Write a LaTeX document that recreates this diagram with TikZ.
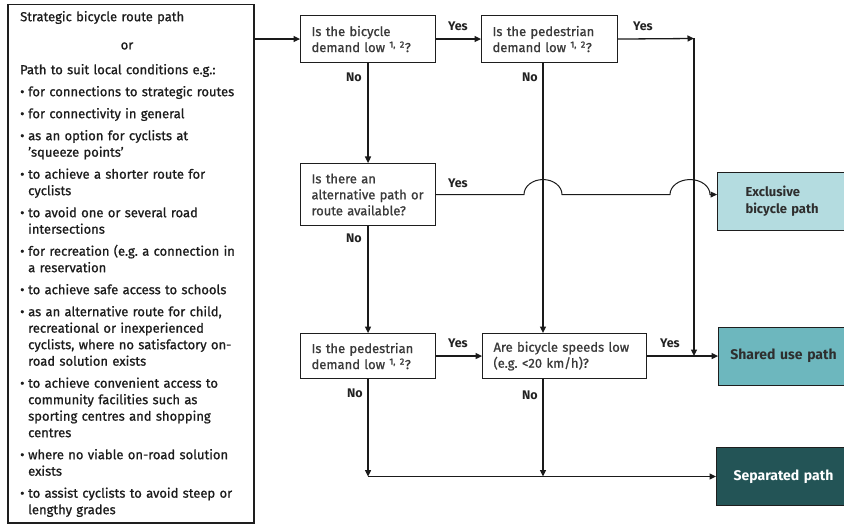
\documentclass[tikz,border=0pt]{standalone}
\usepackage{fontspec}
\setmainfont{Fira Sans}[FakeBold=0.9, BoldFeatures={FakeBold=0}]
\usetikzlibrary{arrows.meta,calc}
\definecolor{boxline}{HTML}{1E1E1E}
\definecolor{linecol}{HTML}{1A1A1A}
\definecolor{qtext}{HTML}{3A3A3A}
\definecolor{srctext}{HTML}{1C1C1C}
\definecolor{labtext}{HTML}{222222}
\definecolor{outtext}{HTML}{2E2E2E}
\definecolor{exfill}{HTML}{B4DCE0}
\definecolor{shfill}{HTML}{6DB7BE}
\definecolor{sepfill}{HTML}{235456}
\newcommand\bitem{\par\vspace{5.5pt}\hangindent=8pt\hangafter=1\noindent\makebox[8pt][l]{\textbullet}}
\begin{document}
\frenchspacing
\begin{tikzpicture}[x=1pt,y=-1pt,
  qbox/.style={draw=boxline, line width=1.1pt, fill=white, text=qtext, anchor=north west,
    inner xsep=11pt, inner ysep=0pt, align=left, font=\fontsize{13}{16}\selectfont},
  lab/.style={font=\bfseries\fontsize{12.5}{15}\selectfont, text=labtext, inner sep=0pt},
  conn/.style={draw=linecol, line width=1.3pt},
  thinconn/.style={draw=linecol, line width=1pt},
  arr/.style={-{Triangle[length=6.5pt,width=6pt]}},
  outbox/.style={draw=boxline, line width=1pt, anchor=north west, inner ysep=0pt,
    minimum height=58pt, font=\bfseries\fontsize{13}{17}\selectfont},
  bigout/.style={font=\bfseries\fontsize{14}{17}\selectfont}]
\useasboundingbox (0,0) rectangle (844,524);
\clip (0,0) rectangle (844,524);

% source box
\node[draw=boxline, line width=1.5pt, anchor=north west, minimum width=246pt,
  minimum height=518pt, inner sep=0pt] (src) at (7,4) {};
\node[anchor=north west, inner sep=0pt, text width=300pt, align=left, text=srctext,
  font=\fontsize{13}{16.5}\selectfont] (list) at (20,9.45) {%
\strut Strategic bicycle route path\par
\vspace{36.5pt}\noindent Path to suit local conditions e.g.:
\bitem for connections to strategic routes
\bitem for connectivity in general
\bitem as an option for cyclists at\newline 'squeeze points'
\bitem to achieve a shorter route for\newline cyclists
\bitem to avoid one or several road\newline intersections
\bitem for recreation (e.g. a connection in\newline a reservation
\bitem to achieve safe access to schools
\bitem as an alternative route for child,\newline recreational or inexperienced\newline cyclists, where no satisfactory on-\newline road solution exists
\bitem to achieve convenient access to\newline community facilities such as\newline sporting centres and shopping\newline centres
\bitem where no viable on-road solution\newline exists
\bitem to assist cyclists to avoid steep or\newline lengthy grades\par};
\node[inner sep=0pt, text=srctext, font=\fontsize{13}{16.5}\selectfont] (orr) at (127,46) {or};

% decision boxes
\node[qbox, text width=113pt, minimum height=47pt] (q1) at (300,15)
  {\mbox{Is the bicycle}\\\mbox{demand low \textsuperscript{1, 2}?}};
\node[qbox, text width=114pt, minimum height=47pt] (q2) at (481,15)
  {\mbox{Is the pedestrian}\\\mbox{demand low \textsuperscript{1, 2}?}};
\node[qbox, text width=113pt, minimum height=62pt] (q3) at (300,163)
  {\mbox{Is there an}\\\mbox{alternative path or}\\\mbox{route available?}};
\node[qbox, text width=113pt, minimum height=45pt] (q5) at (300,333)
  {\mbox{Is the pedestrian}\\\mbox{demand low \textsuperscript{1, 2}?}};
\node[qbox, text width=142pt, minimum height=45pt] (q6) at (482,333)
  {\mbox{Are bicycle speeds low}\\\mbox{(e.g. <20 km/h)?}};

% outcome boxes
\node[outbox, fill=exfill, text=outtext, inner xsep=28pt, text width=110pt, align=left] (ex) at (717,172)
  {Exclusive\\bicycle path};
\node[outbox, bigout, fill=shfill, text=outtext, inner xsep=0pt, text width=130pt, align=center] (sh) at (718,326.5)
  {Shared use path};
\node[outbox, bigout, fill=sepfill, text=white, inner xsep=0pt, text width=134pt, align=center] (sep) at (716,447)
  {Separated path};

% helper coordinates
\coordinate (c2) at (543,0);
\coordinate (tr) at (694,38.5);
\coordinate (j1) at (c2 |- q3.east);
\coordinate (j2) at (tr |- q3.east);
\coordinate (m1) at (q5.south |- sep.west);
\coordinate (m2) at (c2 |- sep.west);

% connectors
\draw[conn, arr] (src.east |- q1.west) -- (q1.west);
\draw[conn, arr] (q1.east) -- (q2.west);
\draw[conn, arr] (q2.east) -- (tr);
\draw[conn, arr] (tr) -- (tr |- q6.east);
\draw[conn, arr] (q1.south) -- (q3.north);
\draw[conn, arr] (c2 |- q2.south) -- (c2 |- q6.north);
\draw[conn, arr] (q3.south) -- (q5.north);
\draw[conn, arr] (q5.east) -- (q6.west);
\draw[conn, arr] (q6.east) -- (sh.west |- q6.east);
\draw[conn, arr] (q5.south) -- (m1);
\draw[conn, arr] (c2 |- q6.south) -- (m2);
\draw[conn, arr] (m1) -- (sep.west);
\draw[thinconn, arr] (q3.east) -- ([xshift=-19pt]j1)
  arc[start angle=180, end angle=0, x radius=19pt, y radius=15pt]
  -- ([xshift=-24pt]j2)
  arc[start angle=180, end angle=0, x radius=20pt, y radius=15pt]
  -- (ex.west |- q3.east);

% labels
\node[lab] (y1) at (458,26) {Yes};
\node[lab] (y2) at (643,26) {Yes};
\node[lab] (y3) at (458,183) {Yes};
\node[lab] (y4) at (458,343) {Yes};
\node[lab] (y5) at (670,343) {Yes};
\node[lab] (n1) at (354,77) {No};
\node[lab] (n2) at (530,77) {No};
\node[lab] (n3) at (354,238) {No};
\node[lab] (n4) at (355,393) {No};
\node[lab] (n5) at (530,395) {No};
\end{tikzpicture}
\end{document}
